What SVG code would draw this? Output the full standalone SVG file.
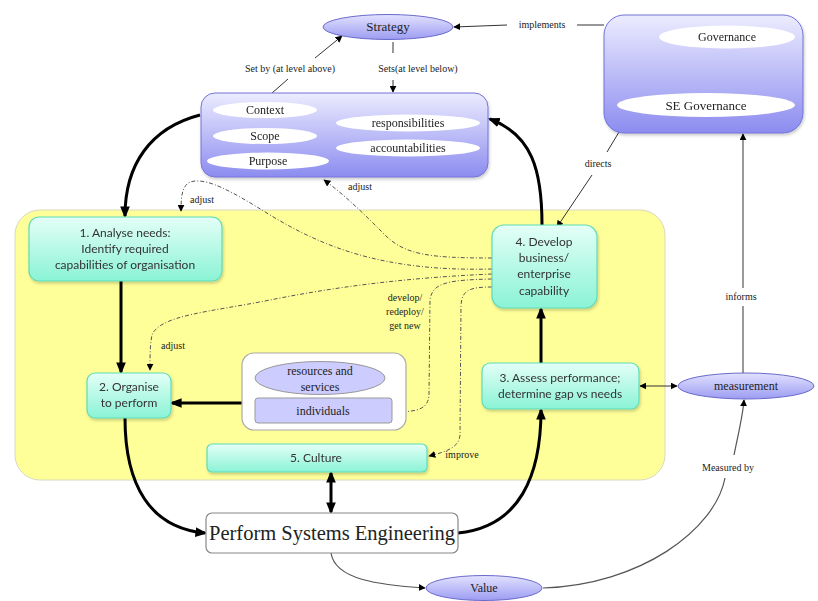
<svg xmlns="http://www.w3.org/2000/svg" width="818" height="601" viewBox="0 0 818 601">
<defs>
<linearGradient id="gBlue" x1="0" y1="0" x2="0" y2="1"><stop offset="0" stop-color="#ececff"/><stop offset="1" stop-color="#8c8cf0"/></linearGradient>
<linearGradient id="gEll" x1="0" y1="0" x2="0" y2="1"><stop offset="0" stop-color="#e2e2ff"/><stop offset="1" stop-color="#9c9cf2"/></linearGradient>
<linearGradient id="gGreen" x1="0" y1="0" x2="0" y2="1"><stop offset="0" stop-color="#e4fff7"/><stop offset="1" stop-color="#8af3d5"/></linearGradient>
<marker id="aT" viewBox="0 0 10 10" refX="9" refY="5" markerUnits="userSpaceOnUse" markerWidth="7" markerHeight="7" orient="auto-start-reverse"><path d="M0,0 L10,5 L0,10 z" fill="#000"/></marker>
<marker id="aS" viewBox="0 0 10 10" refX="8" refY="5" markerUnits="userSpaceOnUse" markerWidth="12" markerHeight="12" orient="auto-start-reverse"><path d="M0,1 L10,5 L0,9 z" fill="#000"/></marker>
<filter id="sh" x="-10%" y="-10%" width="130%" height="140%"><feDropShadow dx="1" dy="2" stdDeviation="1.5" flood-color="#000" flood-opacity="0.2"/></filter>
</defs>
<style>
.thick{fill:none;stroke:#000;stroke-width:3}
.thin{fill:none;stroke:#333;stroke-width:1}
.gray{fill:none;stroke:#555;stroke-width:1.2}
.dd{fill:none;stroke:#555;stroke-width:1;stroke-dasharray:4 2 1 2}
.lbl{font-family:"Liberation Serif","Times New Roman",serif;font-size:10px;fill:#222;text-anchor:middle}
.ser{font-family:"Liberation Serif","Times New Roman",serif;font-size:12px;fill:#222;text-anchor:middle}
.sans{font-family:Lato,"Open Sans",sans-serif;font-size:12px;fill:#333;text-anchor:middle}
.green{fill:url(#gGreen);stroke:#5fdcb8;stroke-width:1.2}
.wEll{fill:#fff;stroke:none}
</style>
<rect width="818" height="601" fill="#fff"/>

<g id="region">
<rect x="15" y="210" width="650" height="270" rx="25" fill="#ffff99" stroke="#d8d8c0" stroke-width="1"/>
</g>

<g id="connectors">
<path class="thick" d="M200,115 C150,128 125,165 125,216" marker-end="url(#aS)"/>
<path class="thick" d="M121,281 L121,372" marker-end="url(#aS)"/>
<path class="thick" d="M125,418 C125,485 150,528 205,533" marker-end="url(#aS)"/>
<path class="thick" d="M242,403 L172,403" marker-end="url(#aS)"/>
<path class="thick" d="M458,533 C520,527 541,475 541,410" marker-end="url(#aS)"/>
<path class="thick" d="M541,363 L541,309" marker-end="url(#aS)"/>
<path class="thick" d="M542,225 C542,170 532,135 490,119" marker-end="url(#aS)"/>
<path class="thick" d="M331,473 L331,512" marker-start="url(#aS)" marker-end="url(#aS)"/>
<path class="thin" d="M272,93 L288,79"/>
<path class="thin" d="M315,58 L342,36" marker-end="url(#aT)"/>
<path class="thin" d="M393,42 L393,53"/>
<path class="thin" d="M393,80 L393,92" marker-end="url(#aT)"/>
<path class="thin" d="M604,25 L577,25"/>
<path class="thin" d="M507,25 L454,27" marker-end="url(#aT)"/>
<path class="thin" d="M728,51 L702,91" marker-end="url(#aT)"/>
<path class="thin" d="M619,132 L607,152"/>
<path class="thin" d="M592,175 L557,227" marker-end="url(#aT)"/>
<path class="thin" d="M640,386 L677,386" marker-start="url(#aT)" marker-end="url(#aT)"/>
<path class="gray" d="M743,373 L743,306"/>
<path class="gray" d="M743,288 L743,134" marker-end="url(#aT)"/>
<path class="gray" d="M331,553 C335,580 380,585 425,588" marker-end="url(#aT)"/>
<path class="gray" d="M543,588 C640,585 715,530 725,478"/>
<path class="gray" d="M734,455 C738,435 743,415 744,400" marker-end="url(#aT)"/>
<path class="dd" d="M492,258 C430,258 405,255 385,235 C365,215 345,195 324,180" marker-end="url(#aT)"/>
<path class="dd" d="M492,269 C380,272 320,245 270,215 C230,190 210,180 195,181 C182,182 181,195 181,211" marker-end="url(#aT)"/>
<path class="dd" d="M492,274 C400,278 330,288 270,300 C210,312 160,315 152,335 C150,345 150,355 150,370" marker-end="url(#aT)"/>
<path class="dd" d="M492,279 C450,280 432,282 430,300 L429,395 C428,408 420,412 394,412" marker-end="url(#aT)"/>
<path class="dd" d="M492,287 C470,287 462,290 461,305 L460,435 C459,448 445,452 429,456" marker-end="url(#aT)"/>
</g>

<g id="labels">
<text class="lbl" x="290" y="72">Set by (at level above)</text>
<text class="lbl" x="418" y="72">Sets(at level below)</text>
<text class="lbl" x="542" y="28">implements</text>
<text class="lbl" x="736" y="80">includes</text>
<text class="lbl" x="598" y="167">directs</text>
<text class="lbl" x="741" y="300">informs</text>
<text class="lbl" x="728" y="471">Measured by</text>
<text class="lbl" x="360" y="190">adjust</text>
<text class="lbl" x="202" y="203">adjust</text>
<text class="lbl" x="173" y="349">adjust</text>
<text class="lbl" x="405" y="301">develop/</text>
<text class="lbl" x="405" y="315">redeploy/</text>
<text class="lbl" x="405" y="329">get new</text>
<text class="lbl" x="462" y="458">improve</text>
</g>

<g id="strategy">
<ellipse cx="388" cy="27" rx="65" ry="12.5" fill="url(#gEll)" stroke="#6a6acc" stroke-width="1"/>
<text class="ser" x="388" y="31" style="font-size:13px">Strategy</text>
</g>

<g id="context-box" filter="url(#sh)">
<rect x="201" y="93" width="287" height="84" rx="14" fill="url(#gBlue)" stroke="#7373d8" stroke-width="1"/>
<ellipse class="wEll" cx="265" cy="110" rx="52" ry="8"/>
<ellipse class="wEll" cx="265" cy="136" rx="52" ry="8"/>
<ellipse class="wEll" cx="268" cy="161" rx="61" ry="8.5"/>
<ellipse class="wEll" cx="408" cy="123" rx="72" ry="8.5"/>
<ellipse class="wEll" cx="408" cy="148" rx="72" ry="8.5"/>
<text class="ser" x="265" y="114">Context</text>
<text class="ser" x="265" y="140">Scope</text>
<text class="ser" x="268" y="165">Purpose</text>
<text class="ser" x="408" y="127">responsibilities</text>
<text class="ser" x="408" y="152">accountabilities</text>
</g>

<g id="governance" filter="url(#sh)">
<rect x="604" y="15" width="199" height="118" rx="20" fill="url(#gBlue)" stroke="#7373d8" stroke-width="1"/>
<ellipse class="wEll" cx="727" cy="37" rx="68" ry="11.5"/>
<ellipse class="wEll" cx="706" cy="105" rx="89" ry="12"/>
<text class="ser" x="727" y="41">Governance</text>
<text class="ser" x="706" y="110" style="font-size:13px">SE Governance</text>
</g>

<g id="node1" filter="url(#sh)">
<rect class="green" x="29" y="217" width="193" height="64" rx="10"/>
<text class="sans" x="125" y="237">1. Analyse needs:</text>
<text class="sans" x="125" y="253">Identify required</text>
<text class="sans" x="125" y="269">capabilities of organisation</text>
</g>

<g id="node2" filter="url(#sh)">
<rect class="green" x="87" y="373" width="84" height="45" rx="8"/>
<text class="sans" x="129" y="391">2. Organise</text>
<text class="sans" x="129" y="407">to perform</text>
</g>

<g id="resources">
<rect x="242" y="353" width="164" height="77" rx="12" fill="#fff" stroke="#aaa" stroke-width="1.2"/>
<ellipse cx="320" cy="378" rx="65" ry="16.5" fill="#ccccff" stroke="#999" stroke-width="1"/>
<text class="ser" x="320" y="375">resources and</text>
<text class="ser" x="320" y="391">services</text>
<rect x="255" y="398" width="137" height="25" rx="3" fill="#ccccff" stroke="#999" stroke-width="1"/>
<text class="ser" x="323" y="415">individuals</text>
</g>

<g id="node4" filter="url(#sh)">
<rect class="green" x="492" y="225" width="105" height="83" rx="12"/>
<text class="sans" x="544" y="246">4. Develop</text>
<text class="sans" x="544" y="262">business/</text>
<text class="sans" x="544" y="278">enterprise</text>
<text class="sans" x="544" y="295">capability</text>
</g>

<g id="node3" filter="url(#sh)">
<rect class="green" x="482" y="363" width="157" height="46" rx="8"/>
<text class="sans" x="560" y="382">3. Assess performance;</text>
<text class="sans" x="560" y="398">determine gap vs needs</text>
</g>

<g id="culture" filter="url(#sh)">
<rect class="green" x="207" y="444" width="220" height="28" rx="5"/>
<text class="sans" x="316" y="462">5. Culture</text>
</g>

<g id="measurement">
<ellipse cx="746" cy="386" rx="68" ry="13" fill="url(#gEll)" stroke="#6a6acc" stroke-width="1"/>
<text class="ser" x="746" y="390">measurement</text>
</g>

<g id="pse">
<rect x="206" y="513" width="252" height="40" rx="6" fill="#fff" stroke="#888" stroke-width="1.2"/>
<text class="ser" x="332" y="540" style="font-size:20.5px">Perform Systems Engineering</text>
</g>

<g id="value">
<ellipse cx="484" cy="588" rx="58" ry="12.5" fill="url(#gEll)" stroke="#6a6acc" stroke-width="1"/>
<text class="ser" x="484" y="592">Value</text>
</g>
</svg>
